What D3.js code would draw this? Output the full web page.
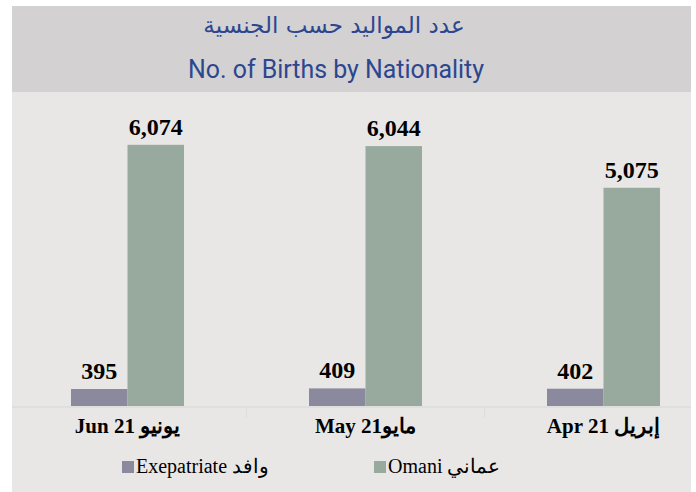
<!DOCTYPE html>
<html><head><meta charset="utf-8">
<script src="https://cdn.jsdelivr.net/npm/d3@7"></script>
<style>body{margin:0;background:#fff}svg{display:block}</style>
</head><body>
<script>
const categories = ["Jun 21 يونيو", "May 21مايو", "Apr 21 إبريل"];
const seriesNames = ["Exepatriate وافد", "Omani عماني"];
const expatriate = [395, 409, 402];
const omani = [6074, 6044, 5075];
const titleAr = "عدد المواليد حسب الجنسية";
const titleEn = "No. of Births by Nationality";
const colors = ["#8a899e", "#98a99e"];

const W = 696, H = 492;
const svg = d3.select("body").append("svg").attr("width", W).attr("height", H);

svg.append("rect").attr("x", 12).attr("y", 92).attr("width", 679).attr("height", 400).attr("fill", "#e8e7e6");
svg.append("rect").attr("x", 12).attr("y", 6).attr("width", 679).attr("height", 86).attr("fill", "#d3d1d1");

svg.append("text").attr("x", 334).attr("y", 33).attr("text-anchor", "middle")
  .attr("font-family", "DejaVu Sans, sans-serif").attr("font-size", 23).attr("fill", "#2c4690").text(titleAr);
svg.append("text").attr("x", 336).attr("y", 78).attr("text-anchor", "middle")
  .attr("font-family", "Roboto, sans-serif").attr("font-size", 25).attr("fill", "#2c4690")
  .attr("textLength", 296).attr("lengthAdjust", "spacingAndGlyphs").text(titleEn);

const x0 = d3.scaleBand().domain(categories).range([8.5, 722.5]).padding(0);
const step = x0.bandwidth();
const x1 = d3.scaleBand().domain(seriesNames).range([step / 2 - 56.5, step / 2 + 56.5]).padding(0);
const y = d3.scaleLinear().domain([0, 7000]).range([406, 105]);

const data = categories.map((c, i) => ({cat: c, vals: [expatriate[i], omani[i]]}));

svg.append("line").attr("x1", 12).attr("x2", 691).attr("y1", 407).attr("y2", 407)
  .attr("stroke", "#dedddc").attr("stroke-width", 1.5);
[1, 2].forEach(i => {
  const xs = (x0(categories[i - 1]) + step / 2 + 56.5 + x0(categories[i]) + step / 2 - 56.5) / 2;
  svg.append("line").attr("x1", xs).attr("x2", xs).attr("y1", 407).attr("y2", 418)
    .attr("stroke", "#dedddc").attr("stroke-width", 1);
});

const g = svg.selectAll("g.grp").data(data).join("g").attr("class", "grp")
  .attr("transform", d => `translate(${x0(d.cat)},0)`);

g.selectAll("rect").data(d => d.vals.map((v, k) => ({k, v}))).join("rect")
  .attr("x", d => x1(seriesNames[d.k]))
  .attr("width", x1.bandwidth())
  .attr("y", d => y(d.v))
  .attr("height", d => y(0) - y(d.v))
  .attr("fill", d => colors[d.k]);

g.selectAll("text.val").data(d => d.vals.map((v, k) => ({k, v}))).join("text").attr("class", "val")
  .attr("x", d => x1(seriesNames[d.k]) + x1.bandwidth() / 2)
  .attr("y", d => y(d.v) - 10)
  .attr("text-anchor", "middle")
  .attr("font-family", "Liberation Serif, Times New Roman, serif")
  .attr("font-weight", "bold").attr("font-size", 24).attr("fill", "#000")
  .text(d => d3.format(",")(d.v));

g.append("text").attr("x", step / 2).attr("y", 433).attr("text-anchor", "middle")
  .attr("font-family", "Liberation Serif, Times New Roman, serif")
  .attr("font-weight", "bold").attr("font-size", 21).attr("fill", "#000")
  .text(d => d.cat);

const legX = [122, 374];
seriesNames.forEach((s, k) => {
  svg.append("rect").attr("x", legX[k]).attr("y", 461).attr("width", 12).attr("height", 12).attr("fill", colors[k]);
  svg.append("text").attr("x", legX[k] + 14).attr("y", 473)
    .attr("font-family", "Liberation Serif, Times New Roman, serif").attr("font-size", 20).attr("fill", "#000")
    .text(s);
});
</script>
</body></html>
